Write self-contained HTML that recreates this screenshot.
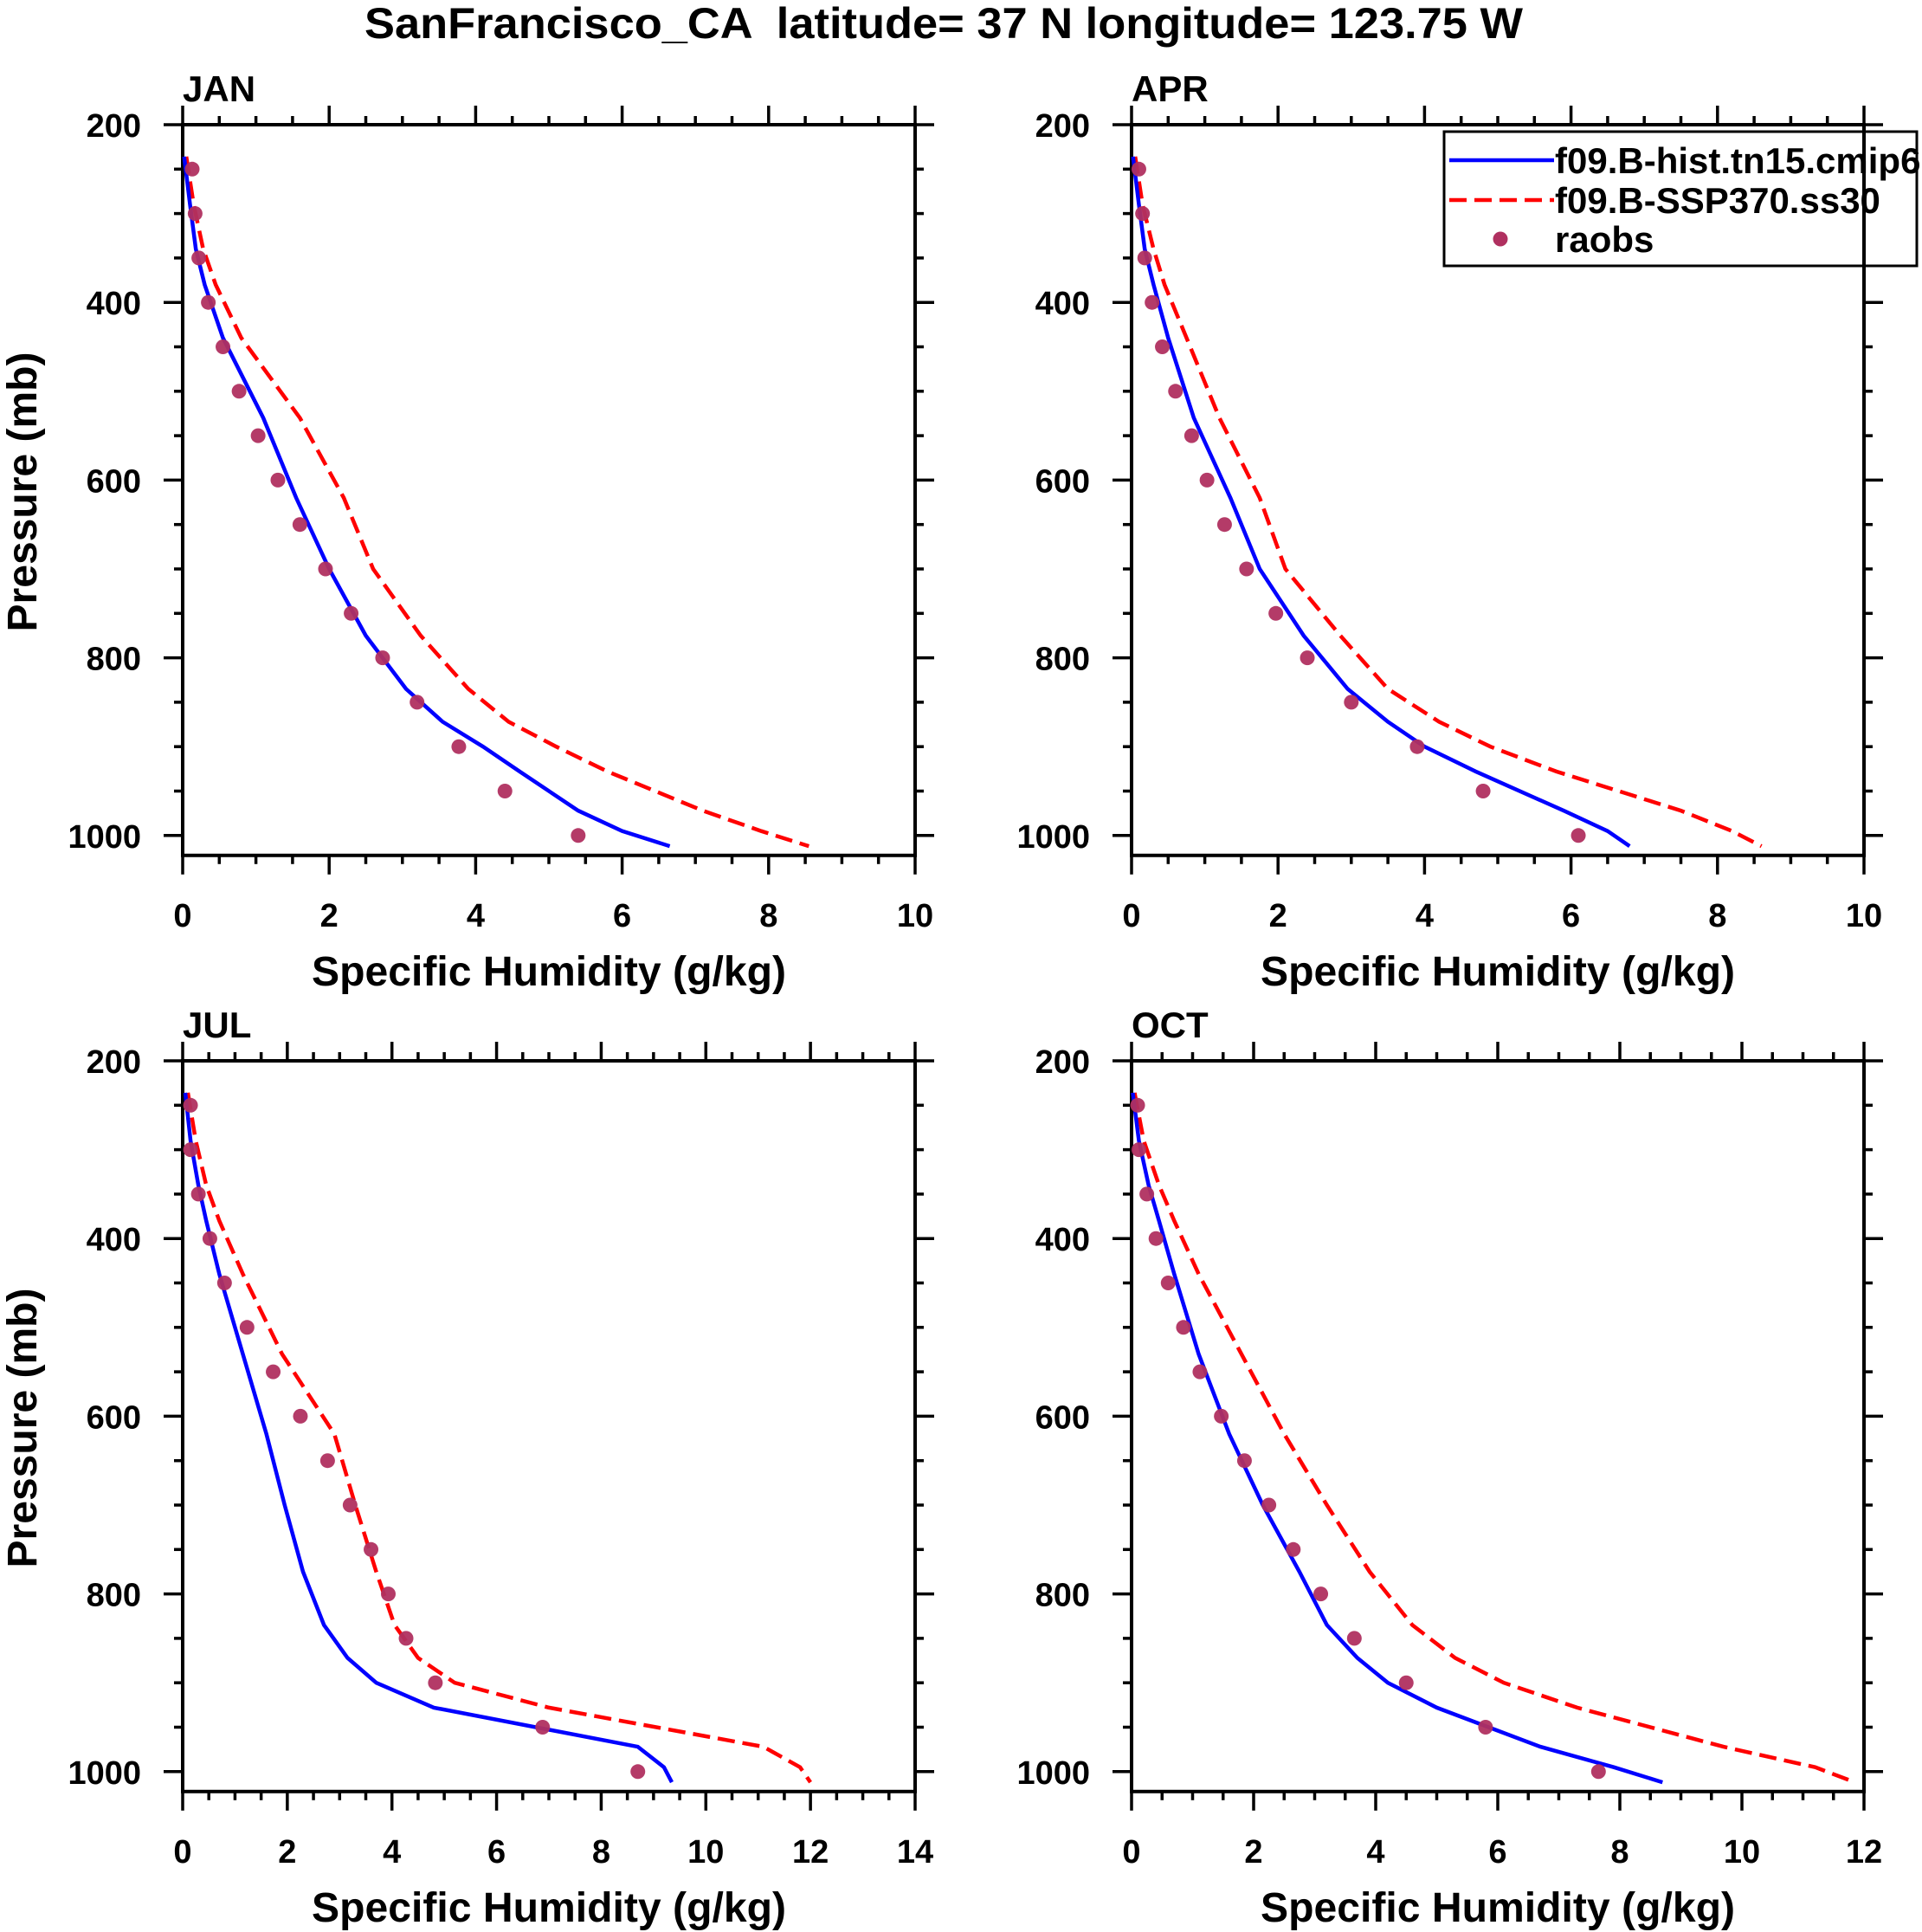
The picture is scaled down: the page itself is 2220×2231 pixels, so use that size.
<!DOCTYPE html>
<html><head><meta charset="utf-8">
<style>
html,body{margin:0;padding:0;background:#fff;}
svg{display:block;font-family:"Liberation Sans",Arial,sans-serif;font-weight:bold;}
</style></head>
<body>
<svg id="chart" width="2220" height="2231" viewBox="0 0 2220 2231" xmlns="http://www.w3.org/2000/svg">
<rect x="0" y="0" width="2220" height="2231" fill="#fff"/>
<text x="421" y="44" font-size="50" textLength="1338" lengthAdjust="spacingAndGlyphs" fill="#000" xml:space="preserve">SanFrancisco_CA  latitude= 37 N longitude= 123.75 W</text>
<g id="panels"></g>
</svg>
<script>
// shared pressure levels for model profiles (mb)
const levels = [236, 290, 340, 380, 440, 530, 620, 700, 775, 835, 872, 900, 928, 972, 995, 1012];
// raob pressure levels (mb)
const obsLevels = [250, 300, 350, 400, 450, 500, 550, 600, 650, 700, 750, 800, 850, 900, 950, 1000];
// month panel names
const months = ["JAN", "APR", "JUL", "OCT"];
// x-axis maxima per panel
const xMax = [10, 10, 14, 12];
// y tick labels
const yTicks = [200, 400, 600, 800, 1000];

// JAN
const janHist = [0.02,0.1,0.18,0.3,0.55,1.1,1.55,2.0,2.5,3.05,3.55,4.1,4.6,5.4,6.0,6.65];
const janSsp  = [0.05,0.15,0.28,0.45,0.8,1.6,2.2,2.6,3.25,3.9,4.45,5.1,5.8,7.1,7.9,8.55];
const janObs  = [0.13,0.17,0.22,0.35,0.55,0.77,1.03,1.3,1.6,1.95,2.3,2.73,3.2,3.77,4.4,5.4];
// APR
const aprHist = [0.02,0.1,0.18,0.3,0.5,0.85,1.35,1.75,2.35,2.95,3.5,4.0,4.7,5.9,6.5,6.8];
const aprSsp  = [0.05,0.15,0.3,0.45,0.75,1.2,1.75,2.1,2.85,3.5,4.2,4.9,5.8,7.5,8.2,8.6];
const aprObs  = [0.1,0.15,0.18,0.28,0.42,0.6,0.82,1.03,1.27,1.57,1.97,2.4,3.0,3.9,4.8,6.1];
// JUL
const julHist = [0.05,0.15,0.3,0.45,0.7,1.15,1.6,1.95,2.3,2.7,3.15,3.7,4.8,8.7,9.2,9.35];
const julSsp  = [0.1,0.25,0.45,0.7,1.15,1.9,2.9,3.3,3.7,4.05,4.5,5.2,7.0,11.1,11.8,12.0];
const julObs  = [0.15,0.15,0.3,0.52,0.8,1.23,1.73,2.25,2.77,3.2,3.6,3.93,4.27,4.83,6.88,8.7];
// OCT
const octHist = [0.02,0.12,0.28,0.45,0.7,1.1,1.6,2.15,2.75,3.2,3.7,4.2,5.0,6.7,7.9,8.7];
const octSsp  = [0.05,0.2,0.45,0.7,1.1,1.8,2.5,3.2,3.9,4.6,5.3,6.1,7.3,9.7,11.2,11.85];
const octObs  = [0.1,0.12,0.25,0.4,0.6,0.85,1.12,1.47,1.85,2.25,2.65,3.1,3.65,4.5,5.8,7.65];

const histSeries = [janHist, aprHist, julHist, octHist];
const sspSeries = [janSsp, aprSsp, julSsp, octSsp];
const obsSeries = [janObs, aprObs, julObs, octObs];

const NS = "http://www.w3.org/2000/svg";
const root = document.getElementById("panels");
const W = 846, PTOP = 200, PBOT = 1022.4, KY = 1.026;
const origins = [[211,144],[1307,144],[211,1225],[1307,1225]];

function mk(tag, attrs, parent) {
  const e = document.createElementNS(NS, tag);
  for (const k in attrs) e.setAttribute(k, attrs[k]);
  parent.appendChild(e);
  return e;
}

months.forEach((m, i) => {
  const [ox, oy] = origins[i];
  const H = (PBOT - PTOP) * KY;
  const xs = v => ox + v / xMax[i] * W;
  const ys = p => oy + (p - PTOP) * KY;
  const g = mk("g", {}, root);
  
  

  const lbl = mk("text", {x: ox, y: oy - 27, "font-size": 42}, g);
  
  
  lbl.textContent = m;

  const step = 2, minor = 0.5;
  const xt = mk("g", {stroke: "#000", "stroke-width": 3.5}, g);
  
  
  for (let v = 0; v <= xMax[i] + 1e-9; v += minor) {
    const major = Math.abs(v / step - Math.round(v / step)) < 1e-6;
    const L = major ? 22 : 10;
    const X = xs(v);
    mk("line", {x1: X, x2: X, y1: oy, y2: oy - L}, xt);
    mk("line", {x1: X, x2: X, y1: oy + H, y2: oy + H + L}, xt);
    if (major) {
      const t = mk("text", {x: X, y: oy + H + 82, "font-size": 38, "text-anchor": "middle", stroke: "none"}, g);
      
      
      t.textContent = Math.round(v);
    }
  }
  const yt = mk("g", {stroke: "#000", "stroke-width": 3.5}, g);
  
  
  for (let p = 200; p <= 1000; p += 50) {
    const major = p % 200 === 0;
    const L = major ? 22 : 10;
    const Y = ys(p);
    mk("line", {x1: ox, x2: ox - L, y1: Y, y2: Y}, yt);
    mk("line", {x1: ox + W, x2: ox + W + L, y1: Y, y2: Y}, yt);
  }
  yTicks.forEach(p => {
    const t = mk("text", {x: ox - 48, y: ys(p) + 14, "font-size": 38, "text-anchor": "end"}, g);
    
    
    t.textContent = p;
  });
  const fr = mk("rect", {x: ox, y: oy, width: W, height: H, fill: "none", stroke: "#000", "stroke-width": 4}, g);
  
  

  const pts = arr => arr.map((v, k) => xs(v).toFixed(1) + "," + ys(levels[k]).toFixed(1)).join(" ");
  const ssp = mk("polyline", {points: pts(sspSeries[i]), fill: "none", stroke: "#ff0000", "stroke-width": 4.5, "stroke-dasharray": "20 9"}, g);
  
  
  const hist = mk("polyline", {points: pts(histSeries[i]), fill: "none", stroke: "#0000ff", "stroke-width": 4.5}, g);
  
  
  obsSeries[i].forEach((v, k) => {
    const c = mk("circle", {cx: xs(v), cy: ys(obsLevels[k]), r: 8.5, fill: "#b03060", "fill-opacity": 0.95}, g);
    
    
  });

  const xtl = mk("text", {x: ox + W / 2, y: oy + H + 150, "font-size": 48, "text-anchor": "middle", textLength: 548, lengthAdjust: "spacingAndGlyphs"}, g);
  
  
  xtl.textContent = "Specific Humidity (g/kg)";

  if (i % 2 === 0) {
    const cy = oy + 424;
    const yl = mk("text", {x: 0, y: 0, "font-size": 48, "text-anchor": "middle", textLength: 323, lengthAdjust: "spacingAndGlyphs", transform: `translate(42,${cy}) rotate(-90)`}, g);
    
    
    yl.textContent = "Pressure (mb)";
  }
});

const lg = mk("g", {}, root);


mk("rect", {x: 1668, y: 152, width: 546, height: 155, fill: "#fff", stroke: "#000", "stroke-width": 3}, lg);
const le1 = mk("line", {x1: 1674, x2: 1795, y1: 185, y2: 185, stroke: "#0000ff", "stroke-width": 4.5}, lg);


const le2 = mk("line", {x1: 1674, x2: 1795, y1: 231, y2: 231, stroke: "#ff0000", "stroke-width": 4.5, "stroke-dasharray": "20 9"}, lg);


const le3 = mk("circle", {cx: 1733, cy: 276, r: 8.5, fill: "#b03060"}, lg);


[["f09.B-hist.tn15.cmip6", 200], ["f09.B-SSP370.ss30", 246], ["raobs", 291]].forEach(([s, y]) => {
  const t = mk("text", {x: 1796, y: y, "font-size": 42}, lg);
  
  
  t.textContent = s;
});
const rl = mk("line", {x1: 2153, x2: 2153, y1: 144, y2: 310, stroke: "#000", "stroke-width": 4}, lg);


</script>
</body></html>
